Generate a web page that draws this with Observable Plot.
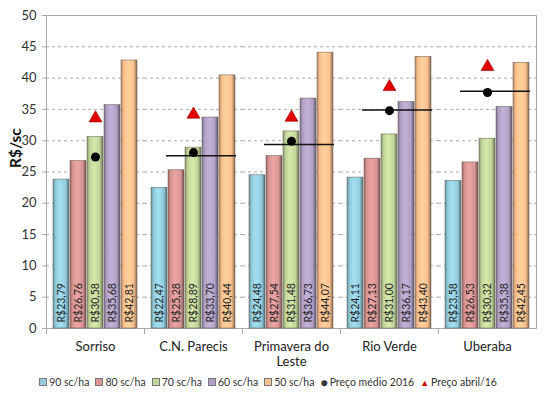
<!DOCTYPE html>
<html>
<head>
<meta charset="utf-8">
<script src="https://cdn.jsdelivr.net/npm/d3@7"></script>
<script src="https://cdn.jsdelivr.net/npm/@observablehq/plot@0.6"></script>
<style>
  body { margin: 0; background: #fff; font-family: Lato, "Open Sans", sans-serif; }
  #chart { width: 549px; }
  .legenda { display: flex; justify-content: center; align-items: center; gap: 6px; font-size: 10.5px; color: #333; height: 20px; margin-left: -13px; }
  .legenda span { display: flex; align-items: center; gap: 2px; }
  .sw { display: inline-block; width: 6px; height: 6px; border: 1px solid #777; }
</style>
</head>
<body>
<div id="chart"></div>
<script>
// custo por faixa de produtividade (R$/saca)
const cidades = ["Sorriso", "C.N. Parecis", "Primavera do Leste", "Rio Verde", "Uberaba"];
const series = ["90 sc/ha", "80 sc/ha", "70 sc/ha", "60 sc/ha", "50 sc/ha"];
const custo90 = [23.79, 22.47, 24.48, 24.11, 23.58];
const custo80 = [26.76, 25.28, 27.54, 27.13, 26.53];
const custo70 = [30.58, 28.89, 31.48, 31.00, 30.32];
const custo60 = [35.68, 33.70, 36.73, 36.17, 35.38];
const custo50 = [42.81, 40.44, 44.07, 43.40, 42.45];
// preços
const precoMedio2016 = [27.4, 28.1, 29.9, 34.8, 37.7];
const precoAbril16 = [33.6, 34.2, 33.7, 38.6, 41.8];
const linhaMedia = [null, 27.6, 29.4, 34.9, 37.9];

const cores = ["#93cddd", "#d99694", "#c3d69b", "#b3a2c7", "#fac08f"];

const custos = [custo90, custo80, custo70, custo60, custo50];
let barras = [];
series.forEach((s, i) => {
  cidades.forEach((c, j) => barras.push({cidade: c, serie: s, valor: custos[i][j]}));
});
let medio = cidades.map((c, j) => ({cidade: c, valor: precoMedio2016[j]}));
let abril = cidades.map((c, j) => ({cidade: c, valor: precoAbril16[j]}));
let linhas = cidades.map((c, j) => ({cidade: c, valor: linhaMedia[j]})).filter(d => d.valor != null);

const fmt = v => "R$" + v.toFixed(2).replace(".", ",");
const alturaPlot = 313;

let chart = Plot.plot({
  width: 549,
  height: 372,
  marginLeft: 45,
  marginRight: 13,
  marginTop: 15,
  marginBottom: 44,
  style: {fontFamily: "Lato, 'Open Sans', sans-serif", color: "#333"},
  fx: {domain: cidades, padding: 0},
  x: {domain: series, axis: null, paddingInner: 0.04, paddingOuter: 0.4},
  y: {domain: [0, 50], axis: null},
  color: {domain: series, range: series.map((s, i) => `url(#grad${i})`)},
  marks: [
    Plot.gridY({ticks: d3.range(5, 50, 5), stroke: "#aaa", strokeOpacity: 1, strokeDasharray: "3,3"}),
    Plot.frame({facet: "super", stroke: "#aaa"}),
    Plot.frame({anchor: "left", stroke: "#aaa", insetTop: alturaPlot, insetBottom: -5}),
    Plot.barY(barras, {fx: "cidade", x: "serie", y: "valor", fill: "serie", stroke: "#4a4035", strokeWidth: 0.6, strokeOpacity: 0.7}),
    Plot.text(barras, {fx: "cidade", x: "serie", y: 0, text: d => fmt(d.valor), rotate: -90, textAnchor: "start", dy: -6, fontSize: 10.5, fill: "#222"}),
    Plot.ruleY(linhas, {fx: "cidade", y: "valor", insetLeft: 22, insetRight: 6, stroke: "#111", strokeWidth: 1.5}),
    Plot.dot(medio, {fx: "cidade", x: () => "70 sc/ha", y: "valor", r: 4.5, fill: "#000"}),
    Plot.dot(abril, {fx: "cidade", x: () => "70 sc/ha", y: "valor", symbol: "triangle", r: 4.8, fill: "#e00000", stroke: "#900", strokeWidth: 0.6}),
    Plot.axisY({ticks: d3.range(0, 55, 5), tickSize: 4, tickPadding: 6, fontSize: 13, stroke: "#aaa", label: null}),
    Plot.text(["R$/sc"], {fx: () => cidades[0], frameAnchor: "left", rotate: -90, dx: -30, dy: -4, fontSize: 15.5, fontWeight: "bold", fill: "#111"}),
    Plot.axisFx({anchor: "bottom", tickSize: 0, tickPadding: 11, fontSize: 13, lineWidth: 7.5, lineHeight: 1.2, label: null, fill: "#222"})
  ]
});

// gradientes para o efeito cilíndrico das barras
let defs = d3.select(chart).insert("defs", ":first-child");
cores.forEach((c, i) => {
  let g = defs.append("linearGradient").attr("id", `grad${i}`).attr("x1", 0).attr("x2", 1).attr("y1", 0).attr("y2", 0);
  g.append("stop").attr("offset", "0%").attr("stop-color", d3.color(c).darker(0.9));
  g.append("stop").attr("offset", "18%").attr("stop-color", c);
  g.append("stop").attr("offset", "45%").attr("stop-color", d3.color(c).brighter(0.25));
  g.append("stop").attr("offset", "78%").attr("stop-color", c);
  g.append("stop").attr("offset", "100%").attr("stop-color", d3.color(c).darker(1.6));
});

d3.select('#chart').append(() => chart);

// legenda
let leg = d3.select('#chart').append("div").attr("class", "legenda");
series.forEach((s, i) => {
  let it = leg.append("span");
  it.append("i").attr("class", "sw").style("background", cores[i]);
  it.append("b").style("font-weight", "normal").text(s);
});
let m = leg.append("span");
m.append("b").style("font-size", "12px").text("●");
m.append("b").style("font-weight", "normal").text("Preço médio 2016");
let a = leg.append("span");
a.append("b").style("font-size", "9px").style("color", "#d00000").text("▲");
a.append("b").style("font-weight", "normal").text("Preço abril/16");
</script>
</body>
</html>
